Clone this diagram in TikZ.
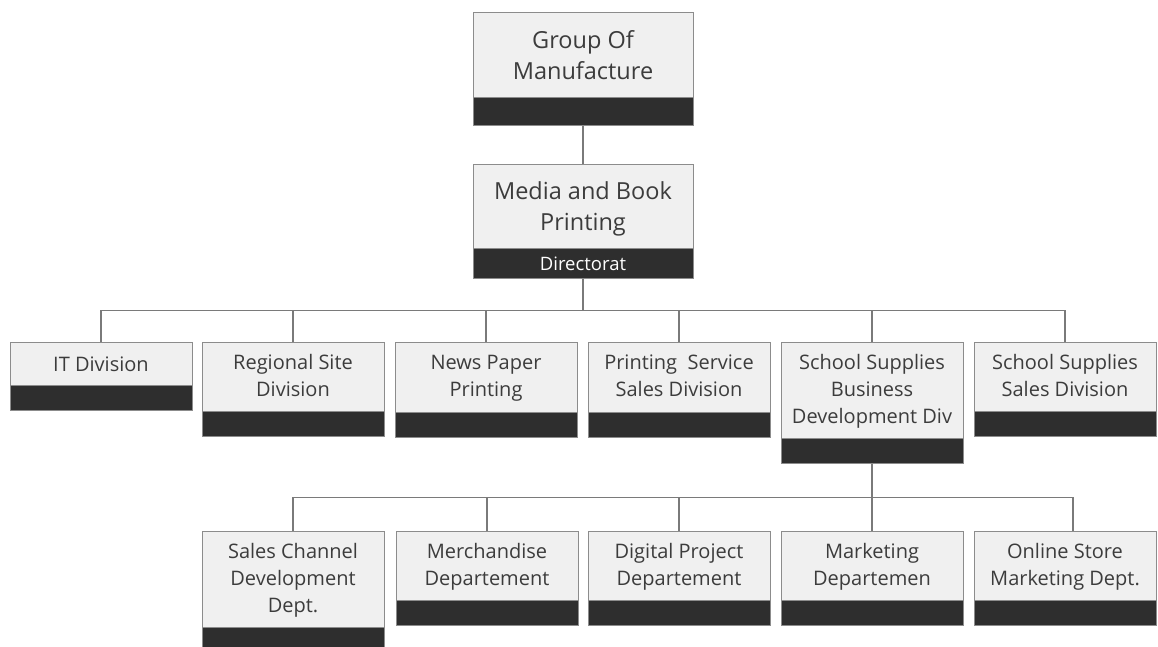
\documentclass[tikz,border=0pt]{standalone}
\usepackage{fontspec}
\setmainfont{Open Sans}
\usepackage{tikz}
\usetikzlibrary{calc,positioning}

\definecolor{boxfill}{HTML}{F0F0F0}
\definecolor{boxline}{HTML}{8C8C8C}
\definecolor{barfill}{HTML}{2E2E2E}
\definecolor{linkgray}{HTML}{7A7A7A}
\definecolor{inkgray}{HTML}{3C3C3C}

\begin{document}
\begin{tikzpicture}[
            x=1pt,y=-1pt,
            node distance=-0.5pt,
            unit/.style={draw=boxline,line width=0.9pt,fill=boxfill,text=inkgray,
                         minimum width=182pt,inner sep=0pt,align=center,anchor=north,
                         execute at begin node=\strut,execute at end node=\strut,
                         text depth=4pt,
                         font=\fontsize{20pt}{27pt}\selectfont},
            head/.style={unit,minimum width=220pt,text depth=0pt,
                         font=\fontsize{23.5pt}{31pt}\selectfont},
            bar/.style={draw=boxline,line width=0.9pt,fill=barfill,text=white,
                        minimum width=182pt,minimum height=25pt,inner sep=0pt},
            link/.style={draw=linkgray,line width=1.3pt}
        ]
            \clip (0,0) rectangle (1158,647);

            % top two levels
            \node (gom)      at (583,12)  [head,minimum height=85pt] {Group Of\\Manufacture};
            \node (gombar)   [below=of gom,bar,minimum width=220pt,minimum height=28pt] {};
            \node (media)    at (583,164) [head,minimum height=84pt] {Media and Book\\Printing};
            \node (mediabar) [below=of media,bar,minimum width=220pt,minimum height=30pt,
                              font=\fontsize{18.5pt}{22pt}\selectfont] {Directorat};

            % divisions
            \node (itdiv)     at (101,342)  [unit,minimum height=43pt] {IT Division};
            \node (regional)  at (293,342)  [unit,minimum height=69pt] {Regional Site\\Division};
            \node (newspaper) at (486,342)  [unit,minimum height=70pt] {News Paper\\Printing};
            \node (printsvc)  at (679,342)  [unit,minimum height=70pt] {Printing~~Service\\Sales Division};
            \node (ssbiz)     at (872,342)  [unit,minimum height=96pt] {School Supplies\\Business\\Development Div};
            \node (sssales)   at (1065,342) [unit,minimum height=69pt] {School Supplies\\Sales Division};
            \node (itdivbar)     [below=of itdiv,bar]     {};
            \node (regionalbar)  [below=of regional,bar]  {};
            \node (newspaperbar) [below=of newspaper,bar] {};
            \node (printsvcbar)  [below=of printsvc,bar]  {};
            \node (ssbizbar)     [below=of ssbiz,bar]     {};
            \node (sssalesbar)   [below=of sssales,bar]   {};

            % departements
            \node (saleschan) at (293,531)  [unit,minimum height=96pt] {Sales Channel\\Development\\Dept.};
            \node (merch)     at (487,531)  [unit,minimum height=69pt] {Merchandise\\Departement};
            \node (digital)   at (679,531)  [unit,minimum height=69pt] {Digital Project\\Departement};
            \node (marketing) at (872,531)  [unit,minimum height=69pt] {Marketing\\Departemen};
            \node (online)    at (1065,531) [unit,minimum height=69pt] {Online Store\\Marketing Dept.};
            \node (saleschanbar) [below=of saleschan,bar] {};
            \node (merchbar)     [below=of merch,bar]     {};
            \node (digitalbar)   [below=of digital,bar]   {};
            \node (marketingbar) [below=of marketing,bar] {};
            \node (onlinebar)    [below=of online,bar]    {};

            % connectors
            \draw [link] (gombar.south) -- (media.north);
            \coordinate (hubdiv) at ([yshift=-31pt]mediabar.south);
            \draw [link] (mediabar.south) -- (hubdiv);
            \foreach \d in {itdiv,regional,newspaper,printsvc,ssbiz,sssales}
                \draw [link] (hubdiv) -| (\d.north);
            \coordinate (hubdept) at ([yshift=-33pt]ssbizbar.south);
            \draw [link] (ssbizbar.south) -- (hubdept);
            \foreach \d in {saleschan,merch,digital,marketing}
                \draw [link] (hubdept) -| (\d.north);
            \draw [link] (hubdept) -| ([xshift=8pt]online.north);
        \end{tikzpicture}
\end{document}
